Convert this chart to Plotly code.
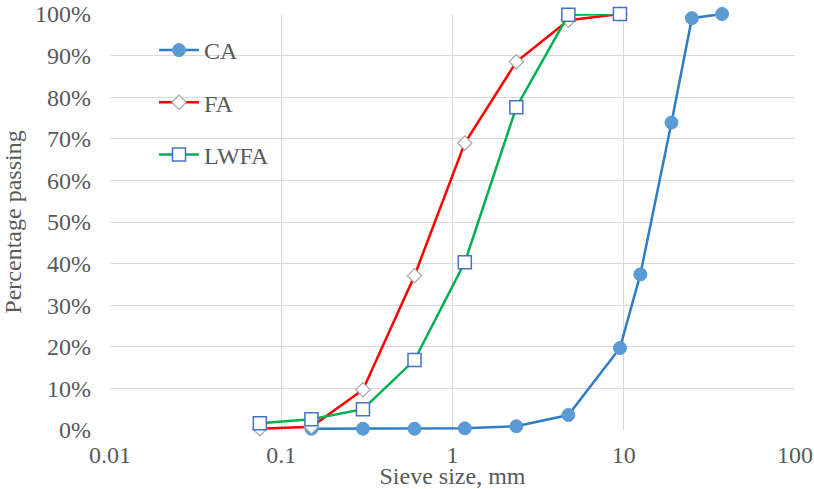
import plotly.graph_objects as go

# Data
sieve_ca = [0.15, 0.3, 0.6, 1.18, 2.36, 4.75, 9.5, 12.5, 19, 25, 37.5]
pass_ca = [0.003, 0.003, 0.003, 0.004, 0.009, 0.036, 0.197, 0.374, 0.739, 0.99, 1.0]

sieve_fa = [0.075, 0.15, 0.3, 0.6, 1.18, 2.36, 4.75, 9.5]
pass_fa = [0.003, 0.008, 0.097, 0.371, 0.69, 0.885, 0.985, 1.0]

sieve_lwfa = [0.075, 0.15, 0.3, 0.6, 1.18, 2.36, 4.75, 9.5]
pass_lwfa = [0.016, 0.026, 0.05, 0.168, 0.403, 0.776, 0.998, 1.0]

x_tickvals = [0.01, 0.1, 1, 10, 100]
x_ticktext = ["0.01", "0.1", "1", "10", "100"]

FONT = "Liberation Serif, Times New Roman, serif"
GREY = "#595959"

fig = go.Figure()
fig.add_trace(go.Scatter(
    x=sieve_ca, y=pass_ca, name="CA", mode="lines+markers", legendgroup="a",
    line=dict(color="#2e7dc6", width=2.5),
    marker=dict(symbol="circle", size=13, color="#5b9bd5", line=dict(color="#5b9bd5", width=1)),
    cliponaxis=False,
))
fig.add_trace(go.Scatter(
    x=sieve_fa, y=pass_fa, name="FA", mode="lines+markers", legendgroup="b",
    line=dict(color="#ff0000", width=2.5),
    marker=dict(symbol="diamond", size=11, color="white", line=dict(color="#a5a5a5", width=1.2)),
    cliponaxis=False,
))
fig.add_trace(go.Scatter(
    x=sieve_lwfa, y=pass_lwfa, name="LWFA", mode="lines+markers", legendgroup="c",
    line=dict(color="#00b050", width=2.5),
    marker=dict(symbol="square", size=13, color="white", line=dict(color="#4472c4", width=1.5)),
    cliponaxis=False,
))

fig.add_shape(type="rect", xref="paper", yref="paper",
              x0=(122 - 110) / 685, x1=(349 - 110) / 685,
              y0=(430 - 182) / 416, y1=(430 - 18) / 416,
              fillcolor="white", line=dict(width=0), layer="between")

fig.update_layout(
    width=814, height=489,
    margin=dict(l=110, r=19, t=14, b=59, autoexpand=False),
    paper_bgcolor="white", plot_bgcolor="white",
    font=dict(family=FONT, size=24, color=GREY),
    showlegend=True,
    legend=dict(x=(154 - 110) / 685, y=(430 - 28) / 416, xanchor="left", yanchor="top",
                bgcolor="rgba(0,0,0,0)", font=dict(family=FONT, size=24, color=GREY),
                tracegroupgap=18, itemwidth=40),
)
fig.update_xaxes(
    type="log", range=[-2, 2], tickvals=x_tickvals, ticktext=x_ticktext,
    showgrid=True, gridcolor="#d9d9d9", gridwidth=1, zeroline=False,
    showline=False, ticks="", ticklabelstandoff=8, automargin=False,
    ticklabeloverflow="allow",
    title=dict(text="Sieve size, mm", standoff=0, font=dict(family=FONT, size=24, color=GREY)),
)
fig.update_yaxes(
    range=[0, 1], dtick=0.1, tickformat=".0%",
    showgrid=True, gridcolor="#d9d9d9", gridwidth=1, zeroline=False,
    showline=False, ticks="", ticklabelstandoff=18, automargin=False,
    ticklabeloverflow="allow",
    title=dict(text="Percentage passing", standoff=8, font=dict(family=FONT, size=24, color=GREY)),
)

fig.write_html(
    "out.html",
    config={"displayModeBar": False},
    post_script="document.body.style.margin='0';document.body.style.overflow='hidden';",
)
